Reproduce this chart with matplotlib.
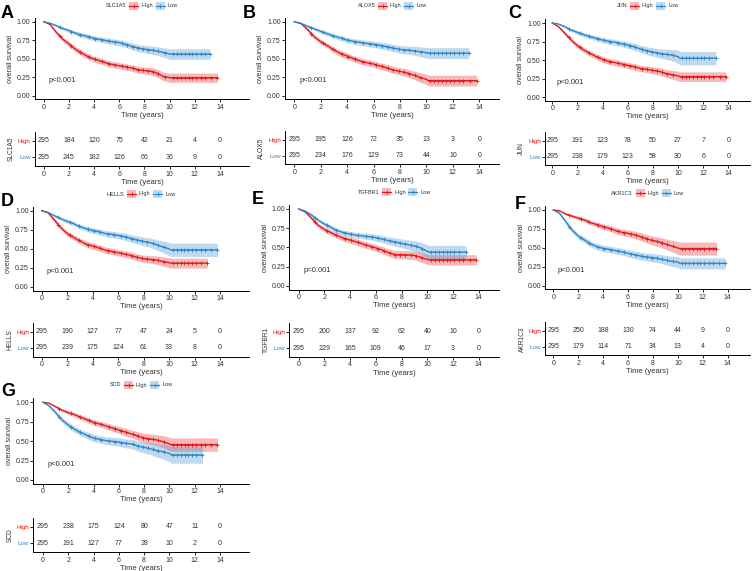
import numpy as np
import matplotlib.pyplot as plt
from matplotlib.patches import Rectangle
from matplotlib.lines import Line2D
from matplotlib.offsetbox import HPacker, TextArea, DrawingArea, AnchoredOffsetbox

plt.rcParams['font.family'] = ['Liberation Sans', 'DejaVu Sans']

# ---- data ----
genes = ['SLC1A5', 'ALOX5', 'JUN', 'HELLS', 'TGFBR1', 'AKR1C3', 'SCD']
letters = ['A', 'B', 'C', 'D', 'E', 'F', 'G']
pvals = ['p<0.001', 'p<0.001', 'p<0.001', 'p<0.001', 'p=0.001', 'p<0.001', 'p<0.001']
table_times = [0, 2, 4, 6, 8, 10, 12, 14]
T = [0, 0.5, 1, 1.5, 2, 2.5, 3, 3.5, 4, 4.5, 5, 5.5, 6, 6.5, 7, 7.5, 8, 8.5, 9, 9.5, 10]

slc1a5_high = [1, .964, .856, .766, .70, .63, .577, .53, .495, .47, .44, .42, .405, .39, .374, .35, .34, .333, .306, .26, .243]
slc1a5_low = [1, .98, .946, .91, .88, .847, .82, .80, .775, .76, .743, .73, .716, .694, .667, .644, .63, .617, .604, .586, .563]
alox5_high = [1, .977, .896, .797, .73, .676, .617, .572, .536, .50, .468, .446, .428, .40, .378, .347, .329, .31, .28, .248, .22]
alox5_low = [1, .977, .94, .905, .87, .838, .806, .78, .752, .734, .72, .707, .694, .68, .662, .644, .626, .617, .608, .595, .58]
jun_high = [1, .95, .86, .77, .694, .635, .59, .545, .51, .482, .464, .446, .428, .41, .387, .374, .36, .347, .32, .302, .284]
jun_low = [1, .986, .95, .905, .874, .842, .815, .793, .77, .752, .739, .72, .703, .68, .65, .626, .608, .59, .577, .568, .545]
hells_high = [1, .974, .877, .776, .70, .65, .60, .56, .535, .51, .482, .465, .447, .43, .412, .386, .368, .36, .351, .333, .316]
hells_low = [1, .978, .934, .895, .86, .83, .79, .763, .74, .724, .70, .69, .675, .658, .636, .614, .596, .58, .553, .526, .496]
tgfbr1_high = [1, .965, .88, .79, .736, .693, .654, .62, .597, .571, .545, .52, .494, .468, .433, .407, .407, .403, .398, .372, .346]
tgfbr1_low = [1, .974, .922, .857, .805, .762, .719, .693, .675, .658, .65, .64, .628, .61, .589, .571, .554, .537, .52, .494, .45]
akr1c3_high = [1, .99, .947, .92, .894, .868, .833, .806, .78, .758, .727, .705, .692, .674, .648, .621, .595, .577, .55, .524, .498]
akr1c3_low = [1, .956, .846, .736, .656, .604, .551, .516, .493, .48, .463, .449, .427, .41, .392, .379, .37, .357, .339, .322, .313]
scd_high = [1, .987, .944, .90, .867, .84, .807, .773, .742, .72, .695, .67, .644, .618, .592, .567, .54, .528, .515, .494, .464]
scd_low = [1, .953, .867, .773, .708, .652, .61, .575, .54, .524, .506, .498, .489, .472, .464, .438, .42, .403, .378, .365, .343]

# half width of the confidence band
slc1a5_high_ci = [0, .012, .024, .03, .034, .036, .038, .039, .04, .04, .041, .041, .042, .043, .044, .046, .048, .05, .053, .058, .063]
slc1a5_low_ci = [0, .008, .016, .022, .026, .029, .031, .033, .035, .036, .038, .039, .041, .043, .045, .048, .051, .054, .058, .064, .072]
alox5_high_ci = [0, .01, .022, .03, .034, .036, .038, .04, .041, .041, .042, .042, .043, .044, .046, .048, .05, .053, .057, .063, .07]
alox5_low_ci = [0, .008, .016, .022, .026, .029, .031, .033, .035, .036, .038, .04, .042, .044, .046, .049, .052, .055, .059, .065, .074]
jun_high_ci = [0, .012, .024, .03, .034, .036, .038, .039, .04, .04, .041, .041, .042, .043, .044, .046, .048, .05, .054, .059, .065]
jun_low_ci = [0, .008, .016, .022, .026, .029, .031, .033, .035, .037, .039, .041, .043, .046, .049, .053, .057, .062, .068, .076, .09]
hells_high_ci = [0, .012, .024, .03, .034, .036, .038, .039, .04, .04, .041, .041, .042, .043, .044, .046, .048, .051, .054, .06, .066]
hells_low_ci = [0, .008, .016, .022, .026, .029, .031, .033, .035, .037, .039, .041, .043, .046, .049, .053, .057, .062, .068, .076, .088]
tgfbr1_high_ci = [0, .012, .022, .028, .032, .035, .037, .039, .041, .042, .043, .044, .045, .047, .049, .051, .053, .055, .058, .062, .067]
tgfbr1_low_ci = [0, .008, .016, .022, .026, .029, .031, .033, .035, .037, .039, .041, .043, .046, .049, .053, .057, .062, .068, .076, .087]
akr1c3_high_ci = [0, .006, .014, .02, .024, .027, .03, .033, .036, .038, .041, .043, .046, .049, .052, .056, .06, .065, .07, .077, .086]
akr1c3_low_ci = [0, .014, .025, .032, .036, .038, .04, .041, .042, .043, .044, .045, .046, .048, .05, .052, .055, .058, .062, .067, .073]
scd_high_ci = [0, .006, .014, .02, .024, .027, .03, .033, .036, .038, .041, .043, .046, .049, .052, .056, .06, .065, .07, .077, .086]
scd_low_ci = [0, .014, .025, .032, .036, .039, .041, .043, .045, .047, .049, .051, .054, .057, .061, .066, .071, .077, .084, .094, .107]

# flat tail after 10 years: value, band half width, last follow-up time
high_tail = [0.243, 0.203, 0.275, 0.31, 0.34, 0.49, 0.455]
low_tail = [0.563, 0.575, 0.525, 0.485, 0.44, 0.295, 0.322]
high_tail_ci = [0.063, 0.072, 0.065, 0.066, 0.067, 0.086, 0.086]
low_tail_ci = [0.072, 0.074, 0.09, 0.088, 0.087, 0.073, 0.107]
high_end = [13.8, 13.8, 13.8, 13.0, 13.8, 13.1, 13.8]
low_end = [13.2, 13.2, 13.0, 13.8, 13.0, 13.8, 12.6]

censor_times = [1.3, 2.2, 2.9, 3.6, 4.1, 4.6, 5.2, 5.7, 6.2, 6.6, 7.1, 7.5, 7.9, 8.3, 8.7,
                9.1, 9.6, 10.3, 10.6, 10.9, 11.2, 11.5, 11.8, 12.1, 12.5, 12.8, 13.3]

risk_high = [[295, 184, 120, 75, 42, 21, 4, 0],
             [295, 195, 126, 72, 35, 13, 3, 0],
             [295, 191, 123, 78, 50, 27, 7, 0],
             [295, 190, 127, 77, 47, 24, 5, 0],
             [295, 200, 137, 92, 62, 40, 10, 0],
             [295, 250, 188, 130, 74, 44, 9, 0],
             [295, 238, 175, 124, 80, 47, 11, 0]]
risk_low = [[295, 245, 182, 126, 66, 36, 9, 0],
            [295, 234, 176, 129, 73, 44, 10, 0],
            [295, 238, 179, 123, 58, 30, 6, 0],
            [295, 239, 175, 124, 61, 33, 8, 0],
            [295, 229, 165, 109, 46, 17, 3, 0],
            [295, 179, 114, 71, 34, 13, 4, 0],
            [295, 191, 127, 77, 28, 10, 2, 0]]

high_curves = [slc1a5_high, alox5_high, jun_high, hells_high, tgfbr1_high, akr1c3_high, scd_high]
low_curves = [slc1a5_low, alox5_low, jun_low, hells_low, tgfbr1_low, akr1c3_low, scd_low]
high_cis = [slc1a5_high_ci, alox5_high_ci, jun_high_ci, hells_high_ci, tgfbr1_high_ci, akr1c3_high_ci, scd_high_ci]
low_cis = [slc1a5_low_ci, alox5_low_ci, jun_low_ci, hells_low_ci, tgfbr1_low_ci, akr1c3_low_ci, scd_low_ci]

RED = '#E41A1C'
BLUE = '#2C86C9'
TXT = '#333333'

# layout in pixels: left, right, x of t=0, x of t=14, y of 1.00, y of 0.00,
# y of High row, y of Low row, legend y, letter x, letter y
layout = [
    (34.7, 249, 43.7, 220, 21.7, 95.7, 140.7, 157.3, 5.7, 1, 5),
    (285, 499, 294.3, 479.3, 21.7, 95.7, 140, 155.8, 5.7, 243, 5),
    (545, 750, 552.3, 728.3, 23, 97, 141, 156.7, 5.7, 508, 5),
    (33, 249, 41.7, 220, 210.7, 286.7, 331.7, 347.7, 194, 1, 193),
    (289.3, 499, 298.7, 478.7, 209, 286, 332, 348.3, 192.3, 252, 191),
    (545.3, 750, 553.3, 727.7, 210, 285.7, 331, 346.7, 193.3, 515, 196),
    (33.3, 249, 43, 220, 402.3, 480, 526.7, 543.3, 385, 1, 383),
]

W, H = 753, 571
fig = plt.figure(figsize=(W / 100, H / 100), dpi=100)


def add_ax(left, right, top, bottom):
    return fig.add_axes([left / W, 1 - bottom / H, (right - left) / W, (bottom - top) / H])


def style(ax):
    for s in ['top', 'right']:
        ax.spines[s].set_visible(False)
    for s in ['left', 'bottom']:
        ax.spines[s].set_linewidth(0.7)
    ax.tick_params(direction='out', length=2, width=0.6, labelsize=5, pad=1,
                   colors='black', labelcolor=TXT)


def add_legend(ax, gene, cx, cy):
    items = [TextArea(gene, textprops=dict(fontsize=4, color=TXT))]
    for lab, col in (('High', RED), ('Low', BLUE)):
        da = DrawingArea(6.5, 5.5, 0, 0)
        da.add_artist(Rectangle((0, 0), 6.5, 5.5, fc=col, alpha=0.3, ec='none'))
        da.add_artist(Line2D([0, 6.5], [2.75, 2.75], color=col, lw=0.9))
        da.add_artist(Line2D([3.25], [2.75], marker='+', color=col, ms=3, mew=0.6))
        items += [da, TextArea(lab, textprops=dict(fontsize=4, color=TXT))]
    box = HPacker(children=items, align='center', pad=0, sep=2)
    anch = AnchoredOffsetbox(loc='center', child=box, pad=0, borderpad=0, frameon=False,
                             bbox_to_anchor=(cx / W, 1 - cy / H), bbox_transform=fig.transFigure)
    ax.add_artist(anch)


def draw_curve(ax, surv, ci, tail, tail_ci, end, col):
    t = np.array(T + [10.15, end])
    s = np.array(surv + [tail, tail])
    hw = np.array(ci + [tail_ci, tail_ci])
    ax.fill_between(t, s - hw, s + hw, color=col, alpha=0.3, lw=0)
    ax.plot(t, s, color=col, lw=1.0)
    ct = [c for c in censor_times if c < end - 0.2] + [end]
    ax.plot(ct, np.interp(ct, t, s), '+', color=col, ms=3, mew=0.6)


for i, gene in enumerate(genes):
    left, right, x0, x14, y1, y0, yh, yl, ly, lx, lty = layout[i]
    ppy = (x14 - x0) / 14
    xlim = ((left - x0) / ppy, (right - x0) / ppy)

    # survival curves
    span = y0 - y1
    ax = add_ax(left, right, y1 - 0.05 * span, y0 + 0.05 * span)
    draw_curve(ax, high_curves[i], high_cis[i], high_tail[i], high_tail_ci[i], high_end[i], RED)
    draw_curve(ax, low_curves[i], low_cis[i], low_tail[i], low_tail_ci[i], low_end[i], BLUE)
    ax.set_xlim(xlim)
    ax.set_ylim(-0.05, 1.05)
    ax.set_xticks(table_times)
    ax.set_yticks([0, 0.25, 0.5, 0.75, 1.0])
    ax.set_yticklabels(['0.00', '0.25', '0.50', '0.75', '1.00'])
    style(ax)
    ax.set_xlabel('Time (years)', fontsize=5.5, labelpad=1, color=TXT)
    ax.set_ylabel('overall survival', fontsize=5.2, labelpad=2, color=TXT)
    ax.text(0.37, 0.2, pvals[i], fontsize=5.5, ha='left', va='center', color=TXT)
    add_legend(ax, gene, (left + right) / 2, ly)

    # number at risk table
    rs = yl - yh
    axt = add_ax(left, right, yh - 0.55 * rs, yl + 0.55 * rs)
    axt.set_xlim(xlim)
    axt.set_ylim(0.45, 2.55)
    for j, t in enumerate(table_times):
        axt.text(t, 2, str(risk_high[i][j]), ha='center', va='center', fontsize=5, color=TXT)
        axt.text(t, 1, str(risk_low[i][j]), ha='center', va='center', fontsize=5, color=TXT)
    axt.set_xticks(table_times)
    axt.set_yticks([2, 1])
    axt.set_yticklabels(['High', 'Low'])
    style(axt)
    axt.tick_params(axis='y', labelsize=4.5)
    axt.get_yticklabels()[0].set_color(RED)
    axt.get_yticklabels()[1].set_color(BLUE)
    axt.set_xlabel('Time (years)', fontsize=5.5, labelpad=1, color=TXT)
    axt.set_ylabel(gene, fontsize=4.8, labelpad=2, color=TXT)

    fig.text(lx / W, 1 - lty / H, letters[i], fontsize=13, fontweight='bold',
             ha='left', va='top', color='black')

fig.savefig('out.png', dpi=100)
